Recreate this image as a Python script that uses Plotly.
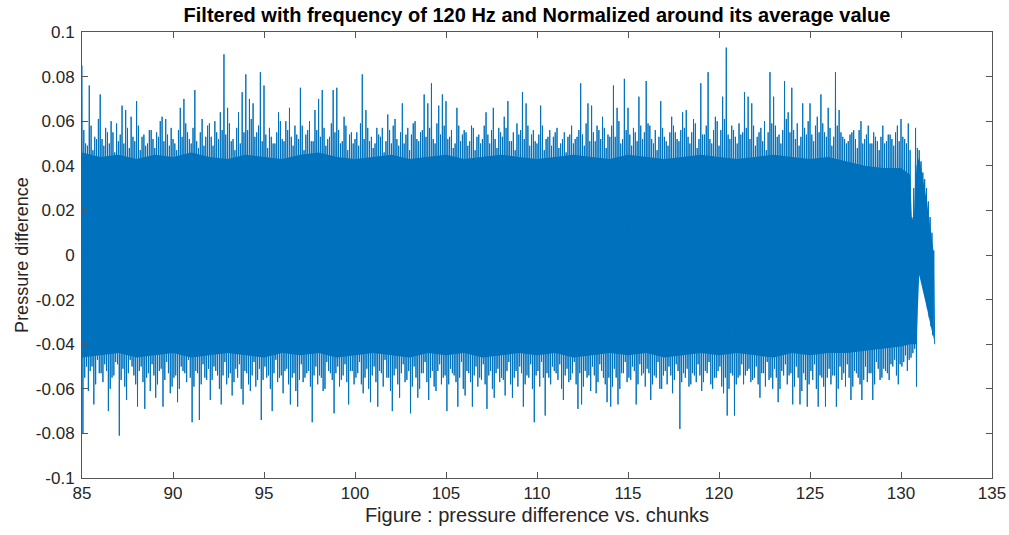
import numpy as np
import plotly.graph_objects as go

# Main peaks / troughs of the signal, one row per chunk (chunk + 0.0, 0.2, ... 0.8)
upper_peaks = [
    0.085, 0.050, 0.076, 0.047, 0.052,   # 85
    0.072, 0.049, 0.055, 0.060, 0.046,   # 86
    0.051, 0.067, 0.065, 0.048, 0.053,   # 87
    0.069, 0.047, 0.054, 0.050, 0.056,   # 88
    0.048, 0.053, 0.062, 0.061, 0.049,   # 89
    0.052, 0.047, 0.066, 0.070, 0.055,   # 90
    0.050, 0.074, 0.048, 0.061, 0.053,   # 91
    0.059, 0.049, 0.055, 0.064, 0.090,   # 92
    0.066, 0.051, 0.047, 0.064, 0.073,   # 93
    0.081, 0.070, 0.068, 0.055, 0.082,   # 94
    0.076, 0.048, 0.053, 0.050, 0.064,   # 95
    0.052, 0.060, 0.066, 0.049, 0.054,   # 96
    0.075, 0.047, 0.056, 0.051, 0.065,   # 97
    0.070, 0.074, 0.049, 0.053, 0.074,   # 98
    0.075, 0.050, 0.062, 0.047, 0.055,   # 99
    0.052, 0.049, 0.081, 0.065, 0.051,   # 100
    0.048, 0.057, 0.053, 0.046, 0.063,   # 101
    0.050, 0.061, 0.049, 0.068, 0.054,   # 102
    0.047, 0.059, 0.052, 0.055, 0.072,   # 103
    0.068, 0.077, 0.050, 0.067, 0.072,   # 104
    0.069, 0.053, 0.048, 0.066, 0.051,   # 105
    0.056, 0.049, 0.058, 0.047, 0.054,   # 106
    0.052, 0.064, 0.050, 0.066, 0.048,   # 107
    0.055, 0.062, 0.069, 0.051, 0.047,   # 108
    0.054, 0.073, 0.068, 0.049, 0.056,   # 109
    0.050, 0.067, 0.047, 0.053, 0.049,   # 110
    0.055, 0.048, 0.052, 0.046, 0.054,   # 111
    0.050, 0.053, 0.077, 0.049, 0.068,   # 112
    0.067, 0.051, 0.056, 0.062, 0.048,   # 113
    0.053, 0.076, 0.066, 0.050, 0.079,   # 114
    0.066, 0.049, 0.055, 0.071, 0.052,   # 115
    0.078, 0.058, 0.050, 0.047, 0.069,   # 116
    0.053, 0.049, 0.062, 0.055, 0.051,   # 117
    0.064, 0.065, 0.050, 0.061, 0.048,   # 118
    0.077, 0.054, 0.082, 0.050, 0.062,   # 119
    0.049, 0.071, 0.093, 0.052, 0.056,   # 120
    0.050, 0.054, 0.073, 0.071, 0.068,   # 121
    0.049, 0.055, 0.051, 0.047, 0.082,   # 122
    0.071, 0.053, 0.050, 0.078, 0.064,   # 123
    0.075, 0.052, 0.049, 0.068, 0.054,   # 124
    0.068, 0.051, 0.062, 0.072, 0.055,   # 125
    0.066, 0.049, 0.082, 0.065, 0.053,   # 126
    0.050, 0.054, 0.056, 0.048, 0.060,   # 127
    0.052, 0.058, 0.050, 0.053, 0.047,   # 128
    0.058, 0.051, 0.054, 0.049, 0.058,   # 129
    0.061, 0.052, 0.059, 0.017, 0.057,   # 130
    0.047, 0.037, 0.030, 0.017, 0.002,   # 131
]

lower_peaks = [
    -0.080, -0.050, -0.052, -0.067, -0.047,   # 85
    -0.053, -0.049, -0.070, -0.055, -0.048,   # 86
    -0.081, -0.051, -0.065, -0.047, -0.054,   # 87
    -0.068, -0.050, -0.069, -0.053, -0.049,   # 88
    -0.064, -0.052, -0.068, -0.048, -0.062,   # 89
    -0.055, -0.066, -0.050, -0.053, -0.047,   # 90
    -0.075, -0.052, -0.074, -0.049, -0.056,   # 91
    -0.065, -0.050, -0.054, -0.067, -0.048,   # 92
    -0.055, -0.063, -0.051, -0.049, -0.067,   # 93
    -0.053, -0.061, -0.048, -0.056, -0.074,   # 94
    -0.050, -0.054, -0.070, -0.047, -0.055,   # 95
    -0.062, -0.051, -0.067, -0.053, -0.068,   # 96
    -0.049, -0.055, -0.052, -0.075, -0.050,   # 97
    -0.054, -0.061, -0.048, -0.053, -0.071,   # 98
    -0.050, -0.056, -0.049, -0.067, -0.052,   # 99
    -0.055, -0.048, -0.062, -0.051, -0.066,   # 100
    -0.050, -0.068, -0.053, -0.047, -0.055,   # 101
    -0.070, -0.051, -0.064, -0.049, -0.056,   # 102
    -0.071, -0.050, -0.064, -0.053, -0.048,   # 103
    -0.065, -0.052, -0.061, -0.049, -0.055,   # 104
    -0.070, -0.051, -0.054, -0.068, -0.048,   # 105
    -0.063, -0.053, -0.068, -0.050, -0.055,   # 106
    -0.049, -0.069, -0.052, -0.064, -0.051,   # 107
    -0.055, -0.063, -0.048, -0.064, -0.052,   # 108
    -0.050, -0.068, -0.054, -0.049, -0.075,   # 109
    -0.052, -0.048, -0.072, -0.055, -0.050,   # 110
    -0.053, -0.049, -0.065, -0.051, -0.056,   # 111
    -0.048, -0.069, -0.067, -0.052, -0.054,   # 112
    -0.050, -0.062, -0.049, -0.055, -0.066,   # 113
    -0.068, -0.051, -0.067, -0.053, -0.048,   # 114
    -0.055, -0.050, -0.067, -0.049, -0.053,   # 115
    -0.051, -0.065, -0.054, -0.048, -0.060,   # 116
    -0.052, -0.050, -0.062, -0.049, -0.078,   # 117
    -0.053, -0.051, -0.058, -0.054, -0.049,   # 118
    -0.061, -0.052, -0.048, -0.060, -0.055,   # 119
    -0.050, -0.062, -0.072, -0.053, -0.072,   # 120
    -0.055, -0.049, -0.054, -0.051, -0.056,   # 121
    -0.050, -0.064, -0.053, -0.048, -0.055,   # 122
    -0.051, -0.066, -0.052, -0.049, -0.054,   # 123
    -0.067, -0.050, -0.067, -0.053, -0.068,   # 124
    -0.052, -0.049, -0.068, -0.055, -0.068,   # 125
    -0.051, -0.054, -0.068, -0.050, -0.053,   # 126
    -0.049, -0.065, -0.052, -0.055, -0.065,   # 127
    -0.050, -0.053, -0.065, -0.048, -0.056,   # 128
    -0.051, -0.053, -0.049, -0.047, -0.058,   # 129
    -0.050, -0.045, -0.047, -0.044, -0.059,   # 130
    -0.008, -0.016, -0.024, -0.032, -0.040,   # 131
]

# In-between oscillations (chunk + 0.1, 0.3, ... 0.9); the record stops before 131.9
upper_minor = [
    0.056, 0.049, 0.058, 0.053, 0.061,   # 85
    0.052, 0.057, 0.050, 0.055, 0.059,   # 86
    0.054, 0.050, 0.057, 0.062, 0.051,   # 87
    0.058, 0.053, 0.049, 0.056, 0.052,   # 88
    0.055, 0.060, 0.051, 0.054, 0.057,   # 89
    0.050, 0.056, 0.053, 0.059, 0.052,   # 90
    0.057, 0.051, 0.055, 0.049, 0.058,   # 91
    0.053, 0.060, 0.052, 0.056, 0.054,   # 92
    0.059, 0.052, 0.057, 0.050, 0.055,   # 93
    0.056, 0.061, 0.053, 0.058, 0.051,   # 94
    0.054, 0.057, 0.050, 0.055, 0.060,   # 95
    0.051, 0.056, 0.053, 0.058, 0.052,   # 96
    0.058, 0.054, 0.060, 0.051, 0.056,   # 97
    0.053, 0.057, 0.052, 0.059, 0.055,   # 98
    0.056, 0.051, 0.058, 0.054, 0.050,   # 99
    0.055, 0.059, 0.052, 0.057, 0.053,   # 100
    0.050, 0.054, 0.057, 0.051, 0.056,   # 101
    0.058, 0.052, 0.055, 0.050, 0.057,   # 102
    0.054, 0.060, 0.051, 0.056, 0.053,   # 103
    0.057, 0.052, 0.059, 0.054, 0.058,   # 104
    0.052, 0.056, 0.050, 0.058, 0.054,   # 105
    0.055, 0.051, 0.057, 0.053, 0.050,   # 106
    0.058, 0.054, 0.056, 0.052, 0.057,   # 107
    0.053, 0.057, 0.051, 0.055, 0.059,   # 108
    0.056, 0.052, 0.058, 0.054, 0.051,   # 109
    0.054, 0.058, 0.052, 0.056, 0.053,   # 110
    0.057, 0.050, 0.055, 0.053, 0.058,   # 111
    0.052, 0.056, 0.054, 0.059, 0.051,   # 112
    0.055, 0.058, 0.052, 0.057, 0.054,   # 113
    0.058, 0.053, 0.060, 0.052, 0.056,   # 114
    0.054, 0.057, 0.051, 0.058, 0.055,   # 115
    0.059, 0.052, 0.056, 0.053, 0.057,   # 116
    0.051, 0.055, 0.058, 0.052, 0.056,   # 117
    0.057, 0.053, 0.055, 0.059, 0.052,   # 118
    0.054, 0.058, 0.052, 0.056, 0.060,   # 119
    0.056, 0.061, 0.054, 0.058, 0.053,   # 120
    0.059, 0.055, 0.057, 0.052, 0.058,   # 121
    0.053, 0.057, 0.060, 0.055, 0.059,   # 122
    0.058, 0.054, 0.056, 0.061, 0.055,   # 123
    0.056, 0.059, 0.053, 0.057, 0.060,   # 124
    0.054, 0.058, 0.055, 0.059, 0.053,   # 125
    0.057, 0.053, 0.058, 0.055, 0.052,   # 126
    0.051, 0.055, 0.052, 0.056, 0.050,   # 127
    0.054, 0.050, 0.055, 0.051, 0.053,   # 128
    0.050, 0.054, 0.052, 0.055, 0.051,   # 129
    0.053, 0.050, 0.047, 0.030, 0.048,   # 130
    0.042, 0.034, 0.024, 0.010,          # 131
]

lower_minor = [
    -0.055, -0.061, -0.050, -0.058, -0.053,   # 85
    -0.057, -0.052, -0.060, -0.054, -0.049,   # 86
    -0.056, -0.059, -0.053, -0.050, -0.058,   # 87
    -0.052, -0.057, -0.055, -0.061, -0.054,   # 88
    -0.058, -0.051, -0.056, -0.053, -0.059,   # 89
    -0.054, -0.060, -0.052, -0.057, -0.055,   # 90
    -0.059, -0.053, -0.058, -0.055, -0.051,   # 91
    -0.056, -0.052, -0.060, -0.054, -0.058,   # 92
    -0.053, -0.057, -0.055, -0.060, -0.052,   # 93
    -0.058, -0.054, -0.059, -0.051, -0.056,   # 94
    -0.055, -0.060, -0.053, -0.057, -0.054,   # 95
    -0.052, -0.058, -0.055, -0.061, -0.056,   # 96
    -0.057, -0.053, -0.059, -0.054, -0.058,   # 97
    -0.055, -0.060, -0.052, -0.056, -0.053,   # 98
    -0.059, -0.054, -0.057, -0.052, -0.058,   # 99
    -0.053, -0.058, -0.055, -0.060, -0.054,   # 100
    -0.057, -0.052, -0.059, -0.055, -0.061,   # 101
    -0.054, -0.058, -0.053, -0.057, -0.052,   # 102
    -0.059, -0.055, -0.060, -0.053, -0.057,   # 103
    -0.055, -0.059, -0.052, -0.058, -0.054,   # 104
    -0.058, -0.053, -0.057, -0.055, -0.060,   # 105
    -0.052, -0.057, -0.054, -0.059, -0.056,   # 106
    -0.058, -0.054, -0.060, -0.053, -0.057,   # 107
    -0.056, -0.052, -0.058, -0.055, -0.059,   # 108
    -0.053, -0.058, -0.055, -0.060, -0.054,   # 109
    -0.059, -0.055, -0.053, -0.058, -0.052,   # 110
    -0.056, -0.060, -0.054, -0.057, -0.053,   # 111
    -0.058, -0.053, -0.059, -0.055, -0.061,   # 112
    -0.054, -0.057, -0.052, -0.058, -0.055,   # 113
    -0.059, -0.055, -0.060, -0.053, -0.057,   # 114
    -0.056, -0.052, -0.058, -0.054, -0.059,   # 115
    -0.053, -0.058, -0.055, -0.060, -0.054,   # 116
    -0.058, -0.054, -0.056, -0.052, -0.057,   # 117
    -0.055, -0.059, -0.053, -0.057, -0.054,   # 118
    -0.057, -0.053, -0.058, -0.055, -0.052,   # 119
    -0.059, -0.055, -0.060, -0.054, -0.058,   # 120
    -0.054, -0.058, -0.052, -0.057, -0.055,   # 121
    -0.058, -0.053, -0.059, -0.056, -0.060,   # 122
    -0.055, -0.060, -0.054, -0.058, -0.053,   # 123
    -0.059, -0.055, -0.061, -0.056, -0.058,   # 124
    -0.056, -0.060, -0.054, -0.059, -0.055,   # 125
    -0.058, -0.054, -0.060, -0.056, -0.059,   # 126
    -0.055, -0.059, -0.053, -0.058, -0.056,   # 127
    -0.057, -0.053, -0.058, -0.051, -0.055,   # 128
    -0.052, -0.056, -0.050, -0.054, -0.049,   # 129
    -0.048, -0.052, -0.046, -0.042, -0.012,   # 130
    -0.012, -0.020, -0.028, -0.036,           # 131
]

# Dense body of the oscillation (where the trace is packed solid)
body_chunk = [85, 86, 87, 88, 89, 90, 91, 92, 93, 94, 95, 96, 97, 98, 99,
              100, 101, 102, 103, 104, 105, 106, 107, 108, 109, 110, 111,
              112, 113, 114, 115, 116, 117, 118, 119, 120, 121, 122, 123,
              124, 125, 126, 127, 128, 129, 130, 130.5, 130.6, 130.7,
              130.85, 131.0, 131.4, 131.8]
body_upper = [0.046, 0.044, 0.045, 0.043, 0.045, 0.044, 0.046, 0.044, 0.043,
              0.045, 0.044, 0.043, 0.045, 0.046, 0.044, 0.043, 0.044, 0.045,
              0.043, 0.044, 0.045, 0.043, 0.044, 0.045, 0.044, 0.043, 0.044,
              0.045, 0.044, 0.043, 0.045, 0.044, 0.043, 0.044, 0.045, 0.044,
              0.043, 0.044, 0.045, 0.044, 0.043, 0.044, 0.042, 0.040, 0.039,
              0.039, 0.036, 0.016, 0.016, 0.040, 0.044, 0.025, 0.001]
body_lower = [-0.046, -0.045, -0.044, -0.046, -0.045, -0.044, -0.046, -0.045,
              -0.044, -0.045, -0.046, -0.044, -0.045, -0.044, -0.046, -0.045,
              -0.044, -0.045, -0.046, -0.044, -0.045, -0.044, -0.046, -0.045,
              -0.044, -0.045, -0.044, -0.046, -0.045, -0.044, -0.045, -0.044,
              -0.046, -0.045, -0.044, -0.045, -0.044, -0.045, -0.046, -0.044,
              -0.045, -0.044, -0.044, -0.043, -0.042, -0.041, -0.040, -0.040,
              -0.040, -0.040, -0.009, -0.023, -0.038]

y_tick_values = [0.1, 0.08, 0.06, 0.04, 0.02, 0, -0.02, -0.04, -0.06, -0.08, -0.1]
y_tick_labels = ["0.1", "0.08", "0.06", "0.04", "0.02", "0", "-0.02", "-0.04",
                 "-0.06", "-0.08", "-0.1"]
x_tick_values = [85, 90, 95, 100, 105, 110, 115, 120, 125, 130, 135]

BLUE = "#0072BD"
FONT = "Liberation Sans, Arial, Helvetica, sans-serif"

# Assemble the oscillating trace: peak, trough, minor peak, minor trough per 0.2 chunk
x_sig, y_sig = [], []
for i, (hi, lo) in enumerate(zip(upper_peaks, lower_peaks)):
    c = 85.0 + 0.2 * i
    x_sig += [c, c + 0.05]
    y_sig += [hi, lo]
    if i < len(upper_minor):
        x_sig += [c + 0.1, c + 0.15]
        y_sig += [upper_minor[i], lower_minor[i]]

fig = go.Figure()

fig.add_trace(go.Scatter(
    x=body_chunk + body_chunk[::-1],
    y=body_upper + body_lower[::-1],
    fill="toself", fillcolor=BLUE, mode="lines",
    line=dict(width=0, color=BLUE), hoverinfo="skip", showlegend=False,
))

fig.add_trace(go.Scatter(
    x=x_sig, y=y_sig, mode="lines",
    line=dict(color=BLUE, width=1.0),
    showlegend=False,
))

axis_common = dict(
    showline=True, linecolor="#555555", linewidth=1, mirror="allticks",
    ticks="inside", ticklen=6, tickcolor="#555555", showgrid=False,
    zeroline=False, tickfont=dict(family=FONT, size=17, color="#262626"),
)

fig.update_xaxes(
    range=[85, 135], tickvals=x_tick_values,
    title=dict(text="Figure : pressure difference vs. chunks",
               font=dict(family=FONT, size=20, color="#262626"), standoff=5),
    **axis_common,
)
fig.update_yaxes(
    range=[-0.1, 0.1], tickvals=y_tick_values, ticktext=y_tick_labels,
    title=dict(text="Pressure difference",
               font=dict(family=FONT, size=18, color="#262626"), standoff=2),
    ticklabelstandoff=3,
    **axis_common,
)

fig.update_layout(
    width=1009, height=535,
    margin=dict(l=82, r=17, t=32, b=57, autoexpand=False),
    paper_bgcolor="white", plot_bgcolor="white",
    title=dict(
        text="<b>Filtered with frequency of 120 Hz and Normalized around its average value</b>",
        font=dict(family=FONT, size=20, color="#000000"),
        x=0.5, xanchor="center", xref="paper",
        y=0.972, yanchor="middle", yref="container",
    ),
)

fig.write_html("out.html")
